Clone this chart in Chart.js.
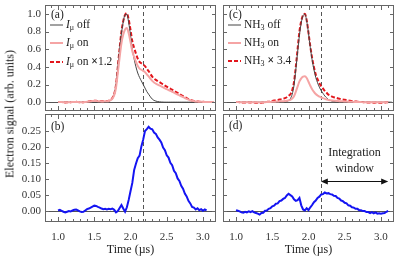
<!DOCTYPE html>
<html>
<head>
<meta charset="utf-8">
<script src="https://cdn.jsdelivr.net/npm/chart.js@4"></script>
<style>
body { margin: 0; background: #fff; width: 399px; height: 259px; overflow: hidden; position: relative; font-family: "Liberation Serif", serif; }
canvas { position: absolute; }
#ytitle { position: absolute; left: 10px; top: 114px; transform: translate(-50%, -50%) rotate(-90deg); white-space: nowrap; font-size: 12px; color: #222; }
</style>
</head>
<body>
<canvas id="pa" width="220" height="112" style="left:0;top:0"></canvas>
<canvas id="pb" width="220" height="147" style="left:0;top:112px"></canvas>
<canvas id="pc" width="179" height="112" style="left:220px;top:0"></canvas>
<canvas id="pd" width="179" height="147" style="left:220px;top:112px"></canvas>
<div id="ytitle">Electron signal (arb. units)</div>
<script>
// tijd-as (µs), stap 0.025
const time = [1.000,1.025,1.050,1.075,1.100,1.125,1.150,1.175,1.200,1.225,1.250,1.275,1.300,1.325,1.350,1.375,1.400,1.425,1.450,1.475,
  1.500,1.525,1.550,1.575,1.600,1.625,1.650,1.675,1.700,1.725,1.750,1.775,1.800,1.825,1.850,1.875,1.900,1.925,1.950,1.975,
  2.000,2.025,2.050,2.075,2.100,2.125,2.150,2.175,2.200,2.225,2.250,2.275,2.300,2.325,2.350,2.375,2.400,2.425,2.450,2.475,
  2.500,2.525,2.550,2.575,2.600,2.625,2.650,2.675,2.700,2.725,2.750,2.775,2.800,2.825,2.850,2.875,2.900,2.925,2.950,2.975,
  3.000,3.025,3.050,3.075,3.100,3.125,3.150];

// (a) I_mu off / on / on x1.2
const muOff = [0,0,0,0,0,0,0,0,0,0,0,0,0,0,0,0,0,0,0,0,
  0,0,0,0,0.001,0.002,0.004,0.006,0.01,0.02,0.04,0.09,0.20,0.40,0.60,0.78,0.91,0.99,0.995,0.90,
  0.76,0.60,0.49,0.40,0.33,0.28,0.24,0.20,0.16,0.12,0.09,0.06,0.035,0.02,0.012,0.007,0.004,0.002,0.001,0,
  0,0,0,0,0,0,0,0,0,0,0,0,0,0,0,0,0,0,0,0,
  0,0,0,0,0,0,0];
const muOn = [0.002,0.002,0.001,-0.001,-0.002,-0.002,0,0,0.002,0.002,0.003,0.002,0,-0.002,-0.001,0.002,0.004,0.007,0.009,0.012,
  0.013,0.013,0.011,0.009,0.008,0.008,0.010,0.011,0.014,0.022,0.040,0.078,0.163,0.333,0.508,0.667,0.765,0.823,0.839,0.779,
  0.683,0.575,0.513,0.458,0.411,0.379,0.367,0.354,0.340,0.315,0.293,0.266,0.241,0.223,0.210,0.199,0.189,0.178,0.168,0.157,
  0.147,0.138,0.128,0.118,0.107,0.097,0.087,0.077,0.067,0.057,0.047,0.038,0.029,0.022,0.016,0.012,0.008,0.007,0.005,0.004,
  0.003,0.003,0.003,0.002,0.002,0.001,0.001];
const muOnScaled = [0.002,0.003,0.001,-0.001,-0.003,-0.002,0,0,0.002,0.003,0.004,0.002,0,-0.002,-0.001,0.002,0.005,0.008,0.011,0.014,
  0.016,0.016,0.013,0.011,0.010,0.010,0.012,0.013,0.017,0.026,0.048,0.094,0.196,0.400,0.610,0.800,0.918,0.988,1.007,0.935,
  0.820,0.690,0.615,0.550,0.493,0.455,0.440,0.425,0.408,0.378,0.352,0.319,0.289,0.267,0.252,0.239,0.227,0.214,0.201,0.188,
  0.176,0.165,0.153,0.141,0.128,0.116,0.104,0.092,0.080,0.068,0.056,0.045,0.035,0.026,0.019,0.014,0.010,0.008,0.006,0.005,
  0.004,0.003,0.003,0.002,0.002,0.001,0.001];
// (b) verschil
const muDiff = [0.002,0.004,0.001,-0.002,-0.004,-0.002,0.000,-0.001,0.002,0.004,0.005,0.002,-0.001,-0.003,-0.002,0.002,0.006,0.008,0.011,0.014,
  0.017,0.016,0.013,0.011,0.008,0.006,0.007,0.005,0.007,0.006,0.008,0.004,-0.004,0.000,0.010,0.019,0.008,-0.002,0.012,0.035,
  0.062,0.088,0.128,0.148,0.165,0.173,0.202,0.223,0.250,0.256,0.263,0.257,0.255,0.245,0.241,0.230,0.223,0.214,0.198,0.190,
  0.174,0.167,0.151,0.143,0.126,0.118,0.102,0.094,0.079,0.070,0.055,0.046,0.032,0.024,0.013,0.011,0.005,0.009,0.003,0.006,
  0.001,0.005,0.002];

// (c) NH3 off / on / x3.4
const nhOff = [0,0,0,0,0,0,0,0,0,0,0,0,0,0,0,0,0,0,0,0,
  0,0,0,0,0,0,0,0.003,0.008,0.018,0.04,0.09,0.19,0.37,0.57,0.76,0.90,0.98,0.995,0.92,
  0.78,0.62,0.48,0.37,0.28,0.22,0.17,0.13,0.10,0.07,0.05,0.03,0.02,0.012,0.007,0.004,0.002,0.001,0,0,
  0,0,0,0,0,0,0,0,0,0,0,0,0,0,0,0,0,0,0,0,
  0,0,0,0,0,0,0];
const nhOn = [0.001,0.001,0,-0.001,-0.001,-0.001,-0.001,-0.001,-0.001,0,-0.001,-0.002,-0.002,-0.003,-0.002,-0.001,0,0.001,0.002,0.003,
  0.004,0.005,0.006,0.007,0.009,0.010,0.011,0.013,0.016,0.021,0.026,0.040,0.067,0.118,0.178,0.235,0.270,0.290,0.294,0.273,
  0.231,0.186,0.147,0.117,0.092,0.076,0.064,0.053,0.045,0.037,0.031,0.025,0.022,0.019,0.016,0.015,0.013,0.011,0.010,0.009,
  0.008,0.007,0.006,0.005,0.004,0.003,0.002,0.002,0.001,0.001,0,0,-0.001,-0.001,-0.001,-0.001,-0.002,-0.001,-0.002,-0.002,
  -0.002,-0.002,-0.001,-0.001,0];
const nhScaled = [0.003,0.002,-0.001,-0.003,-0.005,-0.003,-0.004,-0.002,-0.003,-0.001,-0.004,-0.006,-0.008,-0.010,-0.006,-0.004,0.000,0.003,0.006,0.010,
  0.014,0.018,0.022,0.025,0.030,0.034,0.037,0.045,0.056,0.072,0.090,0.135,0.228,0.401,0.604,0.800,0.918,0.985,1.000,0.928,
  0.784,0.632,0.500,0.397,0.314,0.260,0.216,0.181,0.154,0.127,0.106,0.085,0.074,0.063,0.056,0.050,0.044,0.039,0.034,0.030,
  0.027,0.023,0.019,0.016,0.013,0.010,0.008,0.006,0.004,0.002,0.001,-0.001,-0.002,-0.004,-0.005,-0.004,-0.006,-0.005,-0.007,-0.008,
  -0.007,-0.008,-0.005,-0.002,0.001];
// (d) verschil
const nhDiff = [0.003,0.001,-0.001,-0.004,-0.005,-0.002,-0.004,-0.001,-0.003,0.000,-0.004,-0.006,-0.008,-0.011,-0.006,-0.005,0.001,0.002,0.007,0.009,
  0.015,0.017,0.023,0.024,0.031,0.033,0.038,0.041,0.049,0.054,0.050,0.046,0.037,0.032,0.034,0.041,0.018,0.005,0.002,0.009,
  0.003,0.012,0.019,0.028,0.033,0.041,0.045,0.052,0.053,0.058,0.055,0.056,0.053,0.052,0.048,0.047,0.041,0.039,0.033,0.031,
  0.026,0.024,0.018,0.017,0.012,0.011,0.007,0.007,0.003,0.003,0.000,0.000,-0.003,-0.003,-0.006,-0.003,-0.007,-0.004,-0.008,-0.007,
  -0.008,-0.007,-0.006,-0.002,0.001];

// as-instellingen
const xMin = 0.82, xMax = 3.18;
const xTickLabels = [1.0, 1.5, 2.0, 2.5, 3.0];
const topTicks = [0, 0.2, 0.4, 0.6, 0.8, 1.0];
const diffTicks = [0, 0.05, 0.10, 0.15, 0.20, 0.25];
const cutTime = 2.17;      // start integratievenster
const windowEnd = 3.10;
const arrowLevel = 0.094;

const serif = '"Liberation Serif", "Times New Roman", serif';
const tickFont = { family: serif, size: 11 };
const titleFont = { family: serif, size: 12 };

function drawParts(ctx, parts, x, y) {
  parts.forEach(([t, st]) => {
    const size = st === 's' ? 8 : 11.5;
    ctx.font = (st === 'i' ? 'italic ' : st === 'b' ? 'bold ' : '') + size + 'px ' + serif;
    ctx.fillText(t, x, st === 's' ? y + 3 : y);
    x += ctx.measureText(t).width;
  });
}

const framePlugin = {
  id: 'frame',
  beforeDatasetsDraw(chart, args, o) {
    const { ctx, chartArea: a, scales: { x, y } } = chart;
    ctx.save();
    ctx.strokeStyle = '#555';
    ctx.lineWidth = 1;
    const y0 = Math.round(y.getPixelForValue(0)) + 0.5;
    ctx.beginPath(); ctx.moveTo(a.left, y0); ctx.lineTo(a.right, y0); ctx.stroke();
    const xd = Math.round(x.getPixelForValue(cutTime)) + 0.5;
    ctx.setLineDash([4, 3]);
    ctx.beginPath(); ctx.moveTo(xd, a.top); ctx.lineTo(xd, a.bottom); ctx.stroke();
    ctx.restore();
  },
  afterDraw(chart, args, o) {
    const { ctx, chartArea: a, scales: { x, y } } = chart;
    ctx.save();
    ctx.strokeStyle = '#666';
    ctx.lineWidth = 1;
    ctx.strokeRect(a.left + 0.5, a.top + 0.5, a.right - a.left - 1, a.bottom - a.top - 1);
    ctx.beginPath();
    for (let k = 9; k <= 31; k++) {
      const px = Math.round(x.getPixelForValue(k / 10)) + 0.5;
      const len = k % 5 === 0 ? 5 : 3;
      ctx.moveTo(px, a.bottom); ctx.lineTo(px, a.bottom - len);
      ctx.moveTo(px, a.top); ctx.lineTo(px, a.top + len);
    }
    o.yTicks.forEach(v => {
      const py = Math.round(y.getPixelForValue(v)) + 0.5;
      ctx.moveTo(a.left, py); ctx.lineTo(a.left + 4, py);
      ctx.moveTo(a.right, py); ctx.lineTo(a.right - 4, py);
    });
    ctx.stroke();

    ctx.fillStyle = '#222';
    ctx.textBaseline = 'middle';
    ctx.font = '11.5px ' + serif;
    ctx.fillText(o.label, a.left + 6, o.labelY);

    (o.legend || []).forEach(it => {
      ctx.strokeStyle = it.color;
      ctx.lineWidth = it.width;
      ctx.setLineDash(it.dash || []);
      ctx.beginPath(); ctx.moveTo(a.left + 5, it.y); ctx.lineTo(a.left + 18, it.y); ctx.stroke();
      ctx.setLineDash([]);
      drawParts(ctx, it.parts, a.left + 21, it.y);
    });

    if (o.arrow) {
      const x1 = x.getPixelForValue(cutTime), x2 = x.getPixelForValue(windowEnd);
      const ya = Math.round(y.getPixelForValue(arrowLevel)) + 0.5;
      ctx.strokeStyle = '#111'; ctx.fillStyle = '#111'; ctx.lineWidth = 1;
      ctx.beginPath(); ctx.moveTo(x1 + 4, ya); ctx.lineTo(x2 - 4, ya); ctx.stroke();
      ctx.beginPath(); ctx.moveTo(x1, ya); ctx.lineTo(x1 + 7, ya - 3); ctx.lineTo(x1 + 7, ya + 3); ctx.closePath(); ctx.fill();
      ctx.beginPath(); ctx.moveTo(x2, ya); ctx.lineTo(x2 - 7, ya - 3); ctx.lineTo(x2 - 7, ya + 3); ctx.closePath(); ctx.fill();
      ctx.fillStyle = '#222';
      ctx.textAlign = 'center';
      ctx.font = '12px ' + serif;
      ctx.fillText('Integration', (x1 + x2) / 2, y.getPixelForValue(0.181));
      ctx.fillText('window', (x1 + x2) / 2, y.getPixelForValue(0.131));
    }
    ctx.restore();
  }
};

function panel(id, cfg) {
  const datasets = cfg.series.map(s => ({
    data: s.data,
    borderColor: s.color,
    borderWidth: s.width,
    borderDash: s.dash || [],
    pointRadius: 0,
    fill: false,
    tension: 0,
    cubicInterpolationMode: s.smooth ? 'monotone' : 'default'
  }));
  return new Chart(document.getElementById(id), {
    type: 'line',
    data: { labels: time, datasets: datasets },
    options: {
      responsive: false,
      animation: false,
      events: [],
      layout: { padding: cfg.pad },
      plugins: { legend: { display: false }, tooltip: { enabled: false }, frame: cfg.frame },
      scales: {
        x: {
          type: 'linear', min: xMin, max: xMax, display: cfg.showX,
          grid: { display: false, drawTicks: false }, border: { display: false },
          ticks: { font: tickFont, color: '#333', padding: 9, callback: v => v.toFixed(1) },
          afterBuildTicks: s => { s.ticks = xTickLabels.map(v => ({ value: v })); },
          title: { display: true, text: 'Time (µs)', font: titleFont, color: '#222', padding: { top: 0, bottom: 2 } },
          afterFit: s => { if (cfg.showX) s.height = 37; s.paddingLeft = 0; s.paddingRight = 0; }
        },
        y: {
          type: 'linear', min: cfg.yMin, max: cfg.yMax, display: cfg.showY,
          grid: { display: false, drawTicks: false }, border: { display: false },
          ticks: { font: tickFont, color: '#333', padding: 4, callback: v => v.toFixed(cfg.dec) },
          afterBuildTicks: s => { s.ticks = cfg.yTicks.map(v => ({ value: v })); },
          afterFit: s => { if (cfg.showY) s.width = 45; s.paddingTop = 0; s.paddingBottom = 0; }
        }
      }
    },
    plugins: [framePlugin]
  });
}

const pink = '#f5a4a4', red = '#e3161c', grey = '#444', blue = '#1414f2';
const mu = [['I', 'i'], ['μ', 's']];
const nh = [['NH', 'n'], ['3', 's']];

panel('pa', {
  pad: { top: 5, right: 4, bottom: 1, left: 0 }, showX: false, showY: true,
  yMin: -0.10, yMax: 1.10, yTicks: topTicks, dec: 1,
  series: [
    { data: muOn, color: pink, width: 2, smooth: true },
    { data: muOff, color: grey, width: 1, smooth: true },
    { data: muOnScaled, color: red, width: 2, dash: [4, 2], smooth: true }
  ],
  frame: {
    yTicks: topTicks, label: '(a)', labelY: 15,
    legend: [
      { color: grey, width: 1, y: 25, parts: mu.concat([[' off', 'n']]) },
      { color: pink, width: 2, y: 43, parts: mu.concat([[' on', 'n']]) },
      { color: red, width: 2, dash: [4, 2], y: 62, parts: mu.concat([[' on ', 'n'], ['×', 'b'], ['1.2', 'n']]) }
    ]
  }
});

panel('pb', {
  pad: { top: 2, right: 4, bottom: 0, left: 0 }, showX: true, showY: true,
  yMin: -0.034, yMax: 0.303, yTicks: diffTicks, dec: 2,
  series: [{ data: muDiff, color: blue, width: 2 }],
  frame: { yTicks: diffTicks, label: '(b)', labelY: 15 }
});

panel('pc', {
  pad: { top: 5, right: 5, bottom: 1, left: 3 }, showX: false, showY: false,
  yMin: -0.10, yMax: 1.10, yTicks: topTicks, dec: 1,
  series: [
    { data: nhOn, color: pink, width: 2, smooth: true },
    { data: nhOff, color: grey, width: 1, smooth: true },
    { data: nhScaled, color: red, width: 2, dash: [4, 2], smooth: true }
  ],
  frame: {
    yTicks: topTicks, label: '(c)', labelY: 15,
    legend: [
      { color: grey, width: 1, y: 25, parts: nh.concat([[' off', 'n']]) },
      { color: pink, width: 2, y: 43, parts: nh.concat([[' on', 'n']]) },
      { color: red, width: 2, dash: [4, 2], y: 61, parts: nh.concat([[' ', 'n'], ['×', 'b'], [' 3.4', 'n']]) }
    ]
  }
});

panel('pd', {
  pad: { top: 2, right: 5, bottom: 0, left: 3 }, showX: true, showY: false,
  yMin: -0.034, yMax: 0.303, yTicks: diffTicks, dec: 2,
  series: [{ data: nhDiff, color: blue, width: 2 }],
  frame: { yTicks: diffTicks, label: '(d)', labelY: 14, arrow: true }
});
</script>
</body>
</html>
